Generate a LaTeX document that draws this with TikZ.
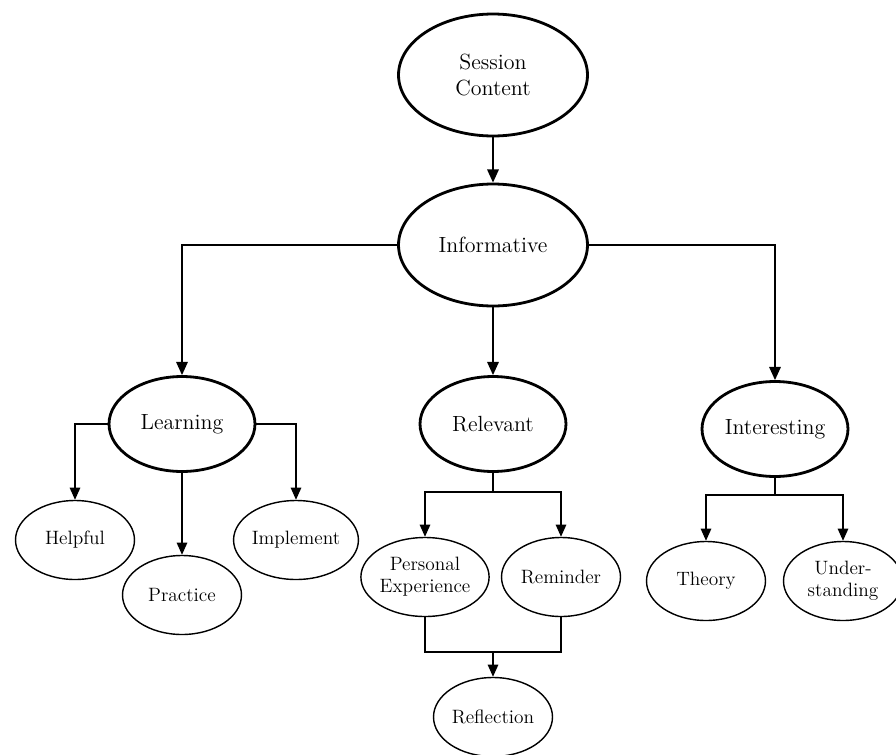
\documentclass[tikz,border=0pt]{standalone}
\usepackage{tikz}
\usetikzlibrary{arrows.meta, positioning, shapes.geometric}

\begin{document}
\begin{tikzpicture}[
    x=0.02cm, y=-0.02cm,
    bignode/.style={ellipse, draw, line width=1.6pt, inner sep=0pt, align=center,
      minimum width=2.92cm, minimum height=1.9cm, font=\fontsize{12.5}{15}\selectfont},
    topnode/.style={bignode, minimum width=3.78cm, minimum height=2.44cm},
    leafnode/.style={ellipse, draw, line width=0.8pt, inner sep=0pt, align=center,
      minimum width=2.38cm, minimum height=1.58cm, font=\fontsize{11}{12.5}\selectfont},
    arr/.style={-{Triangle[length=7.5pt, width=6.5pt]}, line width=1.1pt},
    subarr/.style={-{Triangle[length=7pt, width=6pt]}, line width=0.85pt},
    link/.style={line width=0.85pt}
  ]
  \useasboundingbox (0,0) rectangle (896,754);

  % top levels
  \node[topnode] (sc)  at (493,75)  {Session\\Content};
  \node[topnode] (inf) at (493,245) {Informative};

  % second level
  \node[bignode] (learn) at (182,424) {Learning};
  \node[bignode] (rel)   at (493,424) {Relevant};
  \node[bignode] (intr)  at (775,429) {Interesting};

  % leaves
  \node[leafnode] (help)   at (75,540)  {Helpful};
  \node[leafnode] (prac)   at (182,595) {Practice};
  \node[leafnode] (impl)   at (296,540) {Implement};
  \node[leafnode] (pers)   at (425,577) {Personal\\Experience};
  \node[leafnode] (remind) at (561,577) {Reminder};
  \node[leafnode] (refl)   at (493,717) {Reflection};
  \node[leafnode] (theory) at (706,581) {Theory};
  \node[leafnode] (under)  at (843,581) {Under-\\standing};

  % forks
  \coordinate (relfork)  at (493,492);
  \coordinate (relmerge) at (493,652);
  \coordinate (intfork)  at (775,495);

  \draw[arr] (sc) -- (inf);
  \draw[arr] (inf.west) -| (learn.north);
  \draw[arr] (inf) -- (rel);
  \draw[arr] (inf.east) -| (intr.north);

  \draw[subarr] (learn.west) -| (help.north);
  \draw[subarr] (learn.east) -| (impl.north);
  \draw[subarr] (learn.south) -- (prac.north);

  \draw[link] (rel.south) -- (relfork);
  \draw[subarr] (relfork) -| (pers.north);
  \draw[subarr] (relfork) -| (remind.north);
  \draw[link] (pers.south) |- (relmerge);
  \draw[link] (remind.south) |- (relmerge);
  \draw[subarr] (relmerge) -- (refl.north);

  \draw[link] (intr.south) -- (intfork);
  \draw[subarr] (intfork) -| (theory.north);
  \draw[subarr] (intfork) -| (under.north);
\end{tikzpicture}
\end{document}
